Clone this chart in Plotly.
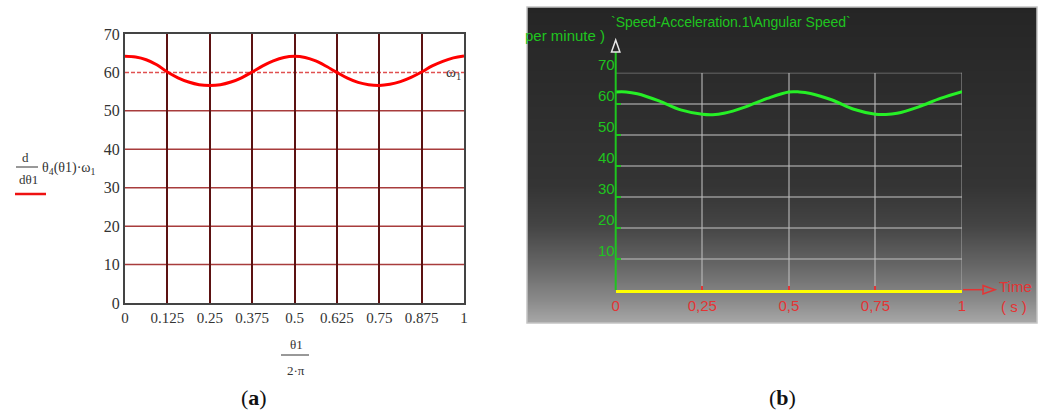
import base64
import struct
import zlib

import plotly.graph_objects as go

W, H = 1042, 414

# ---- data: panel (a), d/dθ1 θ4(θ1)·ω1 against θ1/(2π) ----
a_x = [0, 0.03125, 0.0625, 0.09375, 0.125, 0.15625, 0.1875, 0.21875, 0.25,
       0.28125, 0.3125, 0.34375, 0.375, 0.40625, 0.4375, 0.46875, 0.5,
       0.53125, 0.5625, 0.59375, 0.625, 0.65625, 0.6875, 0.71875, 0.75,
       0.78125, 0.8125, 0.84375, 0.875, 0.90625, 0.9375, 0.96875, 1]
a_speed = [64.2, 64.0, 63.3, 62.0, 60.1, 58.6, 57.5, 56.8, 56.6,
           56.8, 57.5, 58.6, 60.1, 61.7, 63.0, 63.9, 64.2,
           63.9, 63.0, 61.6, 60.0, 58.5, 57.4, 56.8, 56.6,
           56.9, 57.6, 58.7, 60.1, 61.7, 62.9, 63.8, 64.3]
a_omega1 = 60
a_xticks = [0, 0.125, 0.25, 0.375, 0.5, 0.625, 0.75, 0.875, 1]
a_xticktext = ["0", "0.125", "0.25", "0.375", "0.5", "0.625", "0.75", "0.875", "1"]
a_yticks = [0, 10, 20, 30, 40, 50, 60, 70]
a_ygrid = [10, 20, 30, 40, 50]

# ---- data: panel (b), angular speed against time (s) ----
b_time = [0, 0.03, 0.0625, 0.125, 0.1875, 0.25, 0.28, 0.3125, 0.375, 0.4375,
          0.5, 0.53, 0.5625, 0.625, 0.6875, 0.75, 0.78, 0.8125, 0.875, 0.9375, 1]
b_speed = [63.8, 63.8, 63.2, 60.9, 58.0, 56.6, 56.45, 56.9, 59.0, 61.7,
           63.8, 63.8, 63.3, 61.2, 58.2, 56.6, 56.5, 56.9, 59.0, 61.7, 63.9]
b_xticks = [0, 0.25, 0.5, 0.75, 1]
b_xticktext = ["0", "0,25", "0,5", "0,75", "1"]
b_yticks = [10, 20, 30, 40, 50, 60, 70]

SERIF = "Liberation Serif"
SANS = "Liberation Sans"
GREEN = "#1fc41f"
RED_B = "#e33434"
INK = "#333333"
GRID_B = "rgba(185,185,185,0.55)"


def px(x):
    return x / W


def py(y):
    return 1 - y / H


# vertical grey gradient for the dark panel, as a 1-pixel-wide PNG
stops = [(0, (37, 37, 37)), (93, (45, 45, 45)), (178, (52, 52, 52)),
         (218, (68, 68, 68)), (258, (102, 102, 102)), (293, (138, 138, 138)),
         (316, (168, 168, 168))]


def grad_rgb(y):
    for (y0, c0), (y1, c1) in zip(stops[:-1], stops[1:]):
        if y0 <= y <= y1:
            t = (y - y0) / (y1 - y0)
            return tuple(round(c0[i] + (c1[i] - c0[i]) * t) for i in range(3))
    return stops[-1][1]


def gradient_png(height):
    raw = b"".join(b"\x00" + bytes(grad_rgb(r)) for r in range(height))

    def chunk(tag, data):
        return (struct.pack(">I", len(data)) + tag + data
                + struct.pack(">I", zlib.crc32(tag + data) & 0xFFFFFFFF))

    png = (b"\x89PNG\r\n\x1a\n"
           + chunk(b"IHDR", struct.pack(">IIBBBBB", 1, height, 8, 2, 0, 0, 0))
           + chunk(b"IDAT", zlib.compress(raw))
           + chunk(b"IEND", b""))
    return "data:image/png;base64," + base64.b64encode(png).decode()


fig = go.Figure()

fig.add_trace(go.Scatter(
    x=a_x, y=a_speed, mode="lines", line=dict(color="#ff0000", width=3, shape="spline"),
    xaxis="x", yaxis="y", showlegend=False, hoverinfo="skip"))

fig.add_trace(go.Scatter(
    x=b_time, y=b_speed, mode="lines", line=dict(color="#26f026", width=3, shape="spline"),
    xaxis="x2", yaxis="y2", showlegend=False, hoverinfo="skip"))

images = [dict(source=gradient_png(316), xref="paper", yref="paper",
               x=px(527), y=py(7), sizex=px(1037) - px(527), sizey=316 / H,
               xanchor="left", yanchor="top", sizing="stretch", layer="below")]

shapes = [dict(type="rect", xref="paper", yref="paper", layer="below",
               x0=px(527), x1=px(1037), y0=py(323), y1=py(7),
               fillcolor="rgba(0,0,0,0)", line=dict(color="#c4c4c4", width=1.5))]

# panel (a) horizontal grid
for v in a_ygrid:
    shapes.append(dict(type="line", xref="x domain", yref="y", layer="below",
                       x0=0, x1=1, y0=v, y1=v, line=dict(color="#a83c3c", width=1.5)))
# ω1 marker line
shapes.append(dict(type="line", xref="x domain", yref="y", layer="below",
                   x0=0, x1=1, y0=a_omega1, y1=a_omega1,
                   line=dict(color="#e05050", width=1.5, dash="4px,2px")))

# panel (b) closing grid lines at the top and right ends of the ranges
shapes.append(dict(type="line", xref="x2 domain", yref="y2", layer="below",
                   x0=0, x1=1, y0=max(b_yticks), y1=max(b_yticks),
                   line=dict(color=GRID_B, width=1.5)))
shapes.append(dict(type="line", xref="x2", yref="y2 domain", layer="below",
                   x0=max(b_xticks), x1=max(b_xticks), y0=0, y1=1,
                   line=dict(color=GRID_B, width=1.5)))

# panel (a) axis-label fraction bars and underline
shapes.append(dict(type="line", xref="paper", yref="paper",
                   x0=px(16), x1=px(38), y0=py(167), y1=py(167),
                   line=dict(color=INK, width=1)))
shapes.append(dict(type="line", xref="paper", yref="paper",
                   x0=px(15), x1=px(46), y0=py(194), y1=py(194),
                   line=dict(color="#ee1111", width=2.5)))
shapes.append(dict(type="line", xref="paper", yref="paper",
                   x0=px(281), x1=px(309), y0=py(355), y1=py(355),
                   line=dict(color=INK, width=1)))

# panel (b) vertical axis with open arrow head
shapes.append(dict(type="line", xref="paper", yref="paper",
                   x0=px(615.7), x1=px(615.7), y0=py(290), y1=py(52),
                   line=dict(color=GREEN, width=2)))
shapes.append(dict(type="path", xref="paper", yref="paper",
                   path="M %f %f L %f %f L %f %f Z" % (px(611.5), py(52), px(615.7), py(40), px(619.9), py(52)),
                   fillcolor="rgba(0,0,0,0)", line=dict(color="#e8e8e8", width=1.5)))
# panel (b) horizontal axis arrow
shapes.append(dict(type="line", xref="paper", yref="paper",
                   x0=px(963), x1=px(984), y0=py(289.7), y1=py(289.7),
                   line=dict(color=RED_B, width=1.5)))
shapes.append(dict(type="path", xref="paper", yref="paper",
                   path="M %f %f L %f %f L %f %f Z" % (px(983), py(285.5), px(995), py(289.7), px(983), py(293.9)),
                   fillcolor="rgba(0,0,0,0)", line=dict(color=RED_B, width=1.5)))


def label(text, x, y, size, color=INK, family=SERIF, xanchor="center"):
    return dict(text=text, x=px(x), y=py(y), xref="paper", yref="paper",
                xanchor=xanchor, yanchor="middle", showarrow=False,
                font=dict(family=family, size=size, color=color))


annotations = [
    label("ω<sub>1</sub>", 453, 73, 15),
    label("d", 20, 157, 13, xanchor="left"),
    label("dθ1", 17, 180, 13, xanchor="left"),
    label("θ<sub>4</sub>(θ1)·ω<sub>1</sub>", 40, 168, 14, xanchor="left"),
    label("θ1", 296, 344, 13),
    label("2·π", 296, 370, 13),
    label("(<b>a</b>)", 254, 397, 22, color="#111"),
    label("(<b>b</b>)", 782, 397, 22, color="#111"),
    label("`Speed-Acceleration.1\\Angular Speed`", 609, 22, 14, GREEN, SANS, "left"),
    label("per minute )", 607, 35, 15, GREEN, SANS, "right"),
    label("Time", 1015, 286, 15, RED_B, SANS),
    label("( s )", 1014, 306, 15, RED_B, SANS),
]

fig.update_layout(
    width=W, height=H,
    margin=dict(l=0, r=0, t=0, b=0, pad=0, autoexpand=False),
    paper_bgcolor="white",
    plot_bgcolor="rgba(0,0,0,0)",
    showlegend=False,
    images=images,
    shapes=shapes,
    annotations=annotations,
    xaxis=dict(domain=[px(125), px(464)], range=[0, 1], anchor="y", automargin=False,
               tickmode="array", tickvals=a_xticks, ticktext=a_xticktext,
               showgrid=True, gridcolor="#5c1212", gridwidth=1.5, zeroline=False,
               showline=True, linecolor="#444", linewidth=2, mirror=True,
               ticks="", tickfont=dict(family=SERIF, size=15, color=INK)),
    yaxis=dict(domain=[py(303), py(34)], range=[0, 70], anchor="x", automargin=False,
               tickmode="array", tickvals=a_yticks,
               showgrid=False, zeroline=False,
               showline=True, linecolor="#444", linewidth=2, mirror=True,
               ticks="", tickfont=dict(family=SERIF, size=16, color=INK)),
    xaxis2=dict(domain=[px(615.7), px(962)], range=[0, 1], anchor="y2", automargin=False,
                tickmode="array", tickvals=b_xticks, ticktext=b_xticktext,
                showgrid=True, gridcolor=GRID_B, gridwidth=1.5, zeroline=False,
                showline=True, linecolor="#ffff00", linewidth=3,
                ticks="inside", ticklen=4, tickwidth=1.5, tickcolor=RED_B,
                tickfont=dict(family=SANS, size=15, color=RED_B)),
    yaxis2=dict(domain=[py(289.7), py(72.7)], range=[0, 70], anchor="x2", automargin=False,
                tickmode="array", tickvals=b_yticks,
                showgrid=True, gridcolor=GRID_B, gridwidth=1.5, zeroline=False,
                showline=False,
                ticks="inside", ticklen=5, tickwidth=1.5, tickcolor=GREEN,
                ticklabelshift=-8,
                tickfont=dict(family=SANS, size=15, color=GREEN)),
)

fig.write_html("out.html")
